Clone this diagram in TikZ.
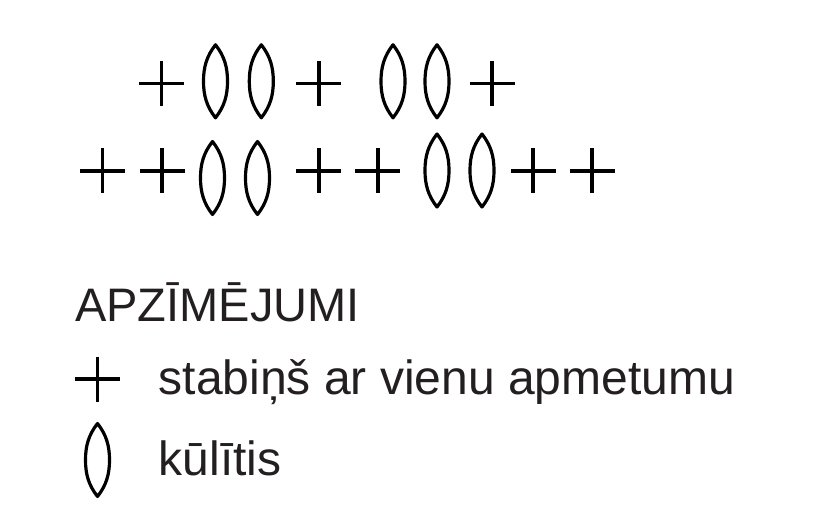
\documentclass[tikz,border=0pt]{standalone}
\usepackage{fontspec}
\setmainfont{Liberation Sans}
\definecolor{ink}{HTML}{231F20}
\begin{document}
\begin{tikzpicture}[x=1pt,y=-1pt,
  plussym/.pic={\draw[line width=3.8,line cap=butt] (-22.5,0)--(22.5,0) (0,-22.5)--(0,22.5);},
  lenssym/.pic={\draw[line width=3.2,line join=round] (0,-36.5) .. controls (9,-25) and (12,-14) .. (12,0) .. controls (12,14) and (9,25) .. (0,36.5) .. controls (-9,25) and (-12,14) .. (-12,0) .. controls (-12,-14) and (-9,-25) .. (0,-36.5) -- cycle;},
  lbl/.style={anchor=base west,inner sep=0pt,text=ink,font=\fontsize{48}{56}\selectfont}]
\useasboundingbox[fill=white] (0,0) rectangle (820,524);
% row 1
\pic at (161.5,83.5) {plussym};
\pic at (215.5,81.3) {lenssym};
\pic at (261.3,81.3) {lenssym};
\pic at (318.7,83.5) {plussym};
\pic at (393,81.3) {lenssym};
\pic at (437,81.3) {lenssym};
\pic at (492,83.5) {plussym};
% row 2
\pic at (102.5,171) {plussym};
\pic at (162.2,171) {plussym};
\pic at (212.5,178) {lenssym};
\pic at (257.5,178) {lenssym};
\pic at (318.8,171) {plussym};
\pic at (377.8,171) {plussym};
\pic at (437,170.5) {lenssym};
\pic at (482,170.5) {lenssym};
\pic at (533.3,171) {plussym};
\pic at (592.2,171) {plussym};
% legend
\node[lbl,font=\fontsize{47}{56}\selectfont] (title) at (75,321) {APZĪMĒJUMI};
\pic at (97.5,379) {plussym};
\node[lbl] (stab) at (158.5,394) {stabiņš ar vienu apmetumu};
\pic at (97.5,460) {lenssym};
\node[lbl] (kul) at (158.5,475) {kūlītis};
\end{tikzpicture}
\end{document}
